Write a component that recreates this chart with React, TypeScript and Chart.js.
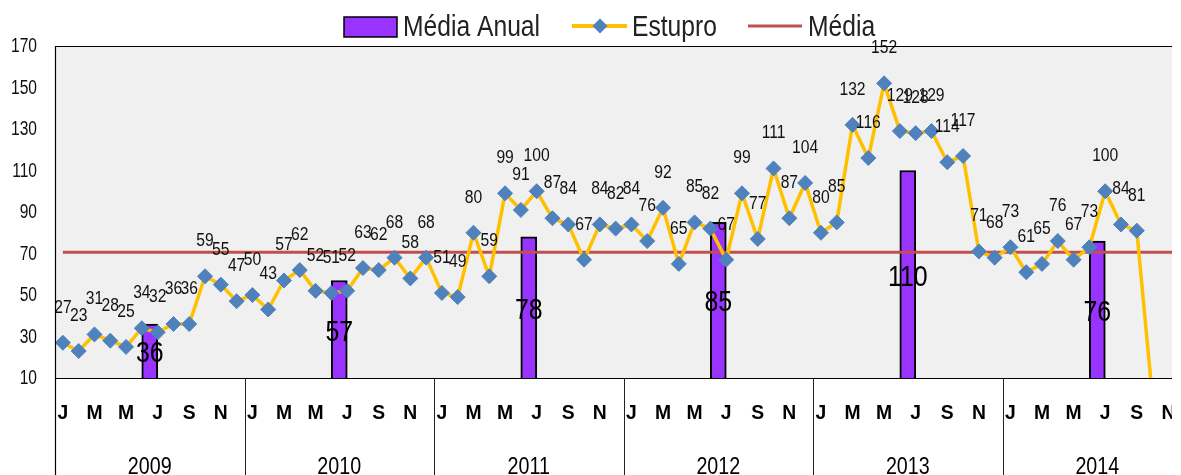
import React, { useEffect, useRef } from 'react';
import { Chart, registerables } from 'chart.js';

Chart.register(...registerables);

// ---- data ----
const years = ['2009', '2010', '2011', '2012', '2013', '2014'];
const monthLetters = ['J', 'F', 'M', 'A', 'M', 'J', 'J', 'A', 'S', 'O', 'N', 'D'];
const estupro2009 = [27, 23, 31, 28, 25, 34, 32, 36, 36, 59, 55, 47];
const estupro2010 = [50, 43, 57, 62, 52, 51, 52, 63, 62, 68, 58, 68];
const estupro2011 = [51, 49, 80, 59, 99, 91, 100, 87, 84, 67, 84, 82];
const estupro2012 = [84, 76, 92, 65, 85, 82, 67, 99, 77, 111, 87, 104];
const estupro2013 = [80, 85, 132, 116, 152, 129, 128, 129, 114, 117, 71, 68];
const estupro2014 = [73, 61, 65, 76, 67, 73, 100, 84, 81, 0];
const mediaAnual = [36, 57, 78, 85, 110, 76];
const mediaGeral = 70.58;
const yMin = 10;
const yMax = 170;
const yStep = 20;
const legendLabels = ['Média Anual', 'Estupro', 'Média'];

const estupro = [
  ...estupro2009,
  ...estupro2010,
  ...estupro2011,
  ...estupro2012,
  ...estupro2013,
  ...estupro2014,
];

const FONT = "'Liberation Sans', Arial, sans-serif";
const PURPLE = '#9933FF';
const ORANGE = '#FFC000';
const BLUE = '#4F81BD';
const RED = '#C0504D';
const W = 1172;
const H = 475;

function txt(
  ctx: CanvasRenderingContext2D,
  s: string,
  x: number,
  y: number,
  size: number,
  sx: number,
  align: CanvasTextAlign = 'center',
  baseline: CanvasTextBaseline = 'middle',
  bold = false,
  color = '#111'
) {
  ctx.save();
  ctx.font = `${bold ? 'bold ' : ''}${size}px ${FONT}`;
  ctx.fillStyle = color;
  ctx.textAlign = align;
  ctx.textBaseline = baseline;
  ctx.translate(x, y);
  ctx.scale(sx, 1);
  ctx.fillText(s, 0, 0);
  ctx.restore();
}

function drawDiamond(ctx: CanvasRenderingContext2D, x: number, y: number, r: number) {
  ctx.beginPath();
  ctx.moveTo(x - r, y);
  ctx.lineTo(x, y - r);
  ctx.lineTo(x + r, y);
  ctx.lineTo(x, y + r);
  ctx.closePath();
  ctx.fill();
}

const framePlugin = {
  id: 'framePlugin',
  beforeDraw(chart: any) {
    const { ctx, chartArea: a } = chart;
    ctx.save();
    ctx.fillStyle = '#F0F0F0';
    ctx.fillRect(a.left, a.top, a.right - a.left, a.bottom - a.top);
    ctx.restore();
  },
  afterDatasetsDraw(chart: any) {
    const { ctx, chartArea: a } = chart;
    const xs = chart.scales.x;
    const ys = chart.scales.y;

    // point labels
    estupro.forEach((v, i) => {
      if (v < yMin) return;
      const px = xs.getPixelForValue(i);
      const py = ys.getPixelForValue(v);
      txt(ctx, String(v), px, py - 35, 18, 0.87);
    });

    // bar labels
    mediaAnual.forEach((v, k) => {
      const px = xs.getPixelForValue(k * 12 + 5.5);
      const top = ys.getPixelForValue(v);
      txt(ctx, String(v), px, (top + a.bottom) / 2 + 3, 30, 0.83, 'center', 'middle', false, '#000');
    });
  },
  afterDraw(chart: any) {
    const { ctx, chartArea: a, height } = chart;
    const xs = chart.scales.x;
    const ys = chart.scales.y;
    ctx.save();

    // y tick labels
    ys.ticks.forEach((t: any) => {
      txt(ctx, String(t.value), 37, ys.getPixelForValue(t.value) + 1, 19.5, 0.8, 'right');
    });

    // frame lines
    ctx.strokeStyle = '#000';
    ctx.lineWidth = 1.2;
    ctx.beginPath();
    ctx.moveTo(a.left, a.top + 0.5);
    ctx.lineTo(a.right, a.top + 0.5);
    ctx.moveTo(a.left + 0.5, a.top);
    ctx.lineTo(a.left + 0.5, height);
    ctx.moveTo(a.left, a.bottom + 0.5);
    ctx.lineTo(a.right, a.bottom + 0.5);
    ctx.stroke();

    // year separators
    ctx.lineWidth = 1;
    ctx.strokeStyle = '#222';
    ctx.beginPath();
    for (let k = 1; k < years.length; k++) {
      const x = Math.round(xs.getPixelForValue(k * 12 - 0.5)) + 0.5;
      ctx.moveTo(x, a.bottom);
      ctx.lineTo(x, height);
    }
    ctx.stroke();
    ctx.restore();

    // month letters
    for (let i = 0; i < years.length * 12; i += 2) {
      txt(ctx, monthLetters[i % 12], xs.getPixelForValue(i), 413, 21, 0.92, 'center', 'middle', true, '#000');
    }

    // year labels
    years.forEach((y, k) => {
      txt(ctx, y, xs.getPixelForValue(k * 12 + 5.5), 467, 24, 0.82, 'center', 'middle', false, '#000');
    });

    // legend
    ctx.save();
    ctx.fillStyle = PURPLE;
    ctx.fillRect(344, 17, 53, 20);
    ctx.strokeStyle = '#000';
    ctx.lineWidth = 1.5;
    ctx.strokeRect(344, 17, 53, 20);

    ctx.strokeStyle = ORANGE;
    ctx.lineWidth = 4;
    ctx.beginPath();
    ctx.moveTo(572, 26);
    ctx.lineTo(627, 26);
    ctx.stroke();
    ctx.fillStyle = BLUE;
    drawDiamond(ctx, 600, 26, 7.5);

    ctx.strokeStyle = RED;
    ctx.lineWidth = 3;
    ctx.beginPath();
    ctx.moveTo(748, 26);
    ctx.lineTo(802, 26);
    ctx.stroke();
    ctx.restore();

    txt(ctx, legendLabels[0], 403, 36, 29, 0.85, 'left', 'alphabetic', false, '#222');
    txt(ctx, legendLabels[1], 632, 36, 29, 0.85, 'left', 'alphabetic', false, '#222');
    txt(ctx, legendLabels[2], 808, 36, 29, 0.85, 'left', 'alphabetic', false, '#222');
  },
};

export default function App() {
  const canvasRef = useRef<HTMLCanvasElement | null>(null);

  useEffect(() => {
    if (!canvasRef.current) return;
    const totalMonths = years.length * 12;
    const chart = new Chart(canvasRef.current, {
      type: 'bar',
      data: {
        datasets: [
          {
            type: 'line',
            label: legendLabels[1],
            data: estupro.map((v, i) => ({ x: i, y: v })),
            borderColor: ORANGE,
            borderWidth: 3.5,
            pointStyle: 'rectRot',
            pointRadius: 7.5,
            pointBackgroundColor: BLUE,
            pointBorderColor: BLUE,
            pointBorderWidth: 1,
            tension: 0,
            order: 0,
          } as any,
          {
            type: 'line',
            label: legendLabels[2],
            data: Array.from({ length: totalMonths }, (_, i) => ({ x: i, y: mediaGeral })),
            borderColor: RED,
            borderWidth: 3,
            pointRadius: 0,
            order: 1,
          } as any,
          {
            type: 'bar',
            label: legendLabels[0],
            data: mediaAnual.map((v, k) => ({ x: k * 12 + 5.5, y: v })),
            backgroundColor: PURPLE,
            borderColor: '#000',
            borderWidth: 2,
            borderSkipped: 'start',
            barThickness: 16,
            order: 2,
          } as any,
        ],
      },
      options: {
        animation: false,
        responsive: false,
        maintainAspectRatio: false,
        devicePixelRatio: 1,
        layout: { autoPadding: false, padding: { top: 46, bottom: 97, left: 0, right: 0 } },
        plugins: {
          legend: { display: false },
          tooltip: { enabled: false },
          title: { display: false },
        },
        scales: {
          x: {
            type: 'linear',
            min: -0.5,
            max: 70.23,
            display: false,
            offset: false,
          },
          y: {
            type: 'linear',
            min: yMin,
            max: yMax,
            ticks: {
              stepSize: yStep,
              padding: 18,
              color: 'rgba(0,0,0,0)',
              font: { family: FONT, size: 19 },
            },
            grid: { display: false, drawTicks: false },
            border: { display: false },
            afterFit: (s: any) => {
              s.width = 55;
            },
          },
        },
      },
      plugins: [framePlugin],
    });
    return () => chart.destroy();
  }, []);

  return (
    <div style={{ position: 'absolute', left: 0, top: 0, width: W, height: H, background: '#fff' }}>
      <canvas ref={canvasRef} width={W} height={H} style={{ width: W, height: H, display: 'block' }} />
    </div>
  );
}
